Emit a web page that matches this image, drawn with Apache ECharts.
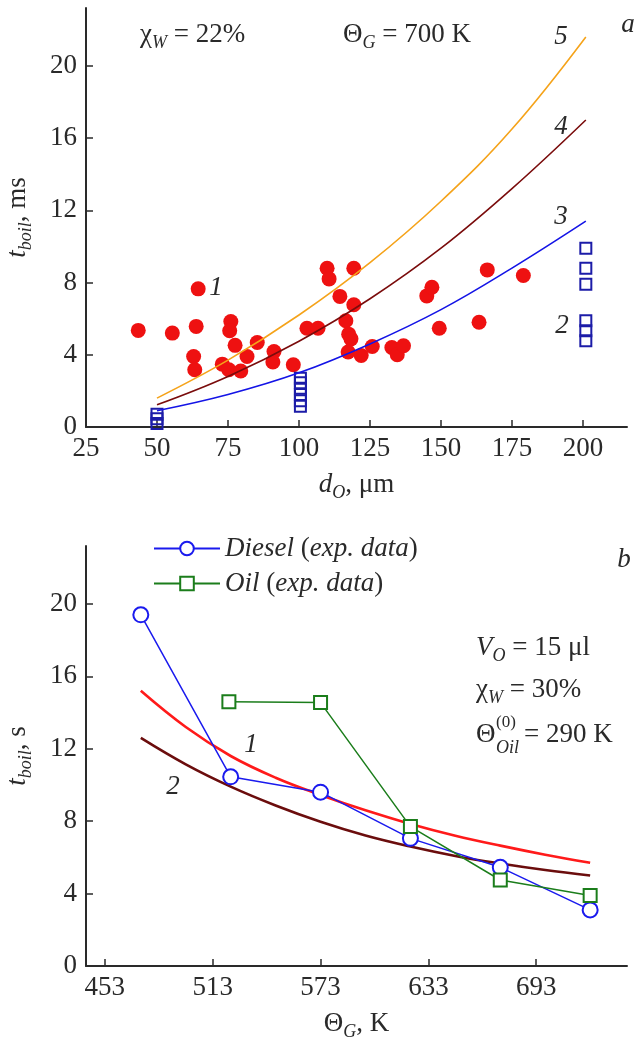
<!DOCTYPE html>
<html>
<head>
<meta charset="utf-8">
<script src="https://cdn.jsdelivr.net/npm/echarts@6/dist/echarts.min.js"></script>
<style>html,body{margin:0;padding:0;background:#fff}#c{width:644px;height:1039px}</style>
</head>
<body>
<div id="c"></div>
<script>
// ---------- Panel a data ----------
const dropDiam = [50, 75, 100, 125, 150, 175, 201];
const curve3 = [0.9, 1.8, 3.0, 4.6, 6.5, 8.8, 11.4];
const curve4 = [1.23, 2.8, 4.75, 7.1, 9.9, 13.2, 17.0];
const curve5 = [1.6, 3.7, 6.2, 9.1, 12.5, 16.5, 21.6];
const expDots = [[43.4,5.35],[55.4,5.2],[64.5,7.65],[63.8,5.57],[62.9,3.9],[63.3,3.17],[76.0,5.84],[75.6,5.33],[77.5,4.52],[73.0,3.48],[75.3,3.17],[79.5,3.1],[81.7,3.9],[85.3,4.68],[91.2,4.18],[90.8,3.6],[98.0,3.45],[102.8,5.47],[106.7,5.47],[109.9,8.79],[110.6,8.2],[114.4,7.23],[116.5,5.88],[117.5,5.14],[118.3,4.88],[117.3,4.15],[119.3,8.79],[119.3,6.77],[121.9,3.96],[125.8,4.46],[132.7,4.4],[134.6,4.0],[136.8,4.5],[145.0,7.26],[146.8,7.74],[149.4,5.47],[163.4,5.8],[166.3,8.7],[179.0,8.39]];
const sqDiam = [50, 100.5, 201];
const sqTimes = [[0.2, 0.45, 0.7], [1.15, 1.45, 1.8, 2.15, 2.45, 2.7], [4.77, 5.33, 5.88, 7.9, 8.79, 9.9]];
const xTicksA = [25, 50, 75, 100, 125, 150, 175, 200];
const yTicks = [0, 4, 8, 12, 16, 20];

// ---------- Panel b data ----------
const gasTemps = [473, 523, 573, 623, 673, 723];
const dieselExp = [19.4, 10.45, 9.6, 7.05, 5.45, 3.1];
const oilTemps = [522, 573, 623, 673, 723];
const oilExp = [14.6, 14.55, 7.7, 4.75, 3.9];
const modelTemps = [473, 498, 523, 548, 573, 598, 623, 648, 673, 698, 723];
const model1 = [15.2, 13.2, 11.6, 10.4, 9.45, 8.6, 7.85, 7.2, 6.65, 6.15, 5.7];
const model2 = [12.6, 11.14, 9.91, 8.87, 7.97, 7.21, 6.6, 6.08, 5.66, 5.3, 5.0];
const xTicksB = [453, 513, 573, 633, 693];

const serif = 'Liberation Serif, Times New Roman, Tinos, serif';
const ink = '#2a2a2a';
const FS = 27;
const SUB = 18;
const rich = {
  n: {fontFamily: serif, fontSize: FS, color: ink, lineHeight: 34},
  i: {fontFamily: serif, fontSize: FS, color: ink, fontStyle: 'italic', lineHeight: 34},
  s: {fontFamily: serif, fontSize: SUB, color: ink, fontStyle: 'italic', lineHeight: 18, verticalAlign: 'bottom'}
};
const zipXY = (xs, ys) => xs.map((x, k) => [x, ys[k]]);
const sqPoints = [];
sqDiam.forEach((d, k) => sqTimes[k].forEach(t => sqPoints.push([d, t])));

function xAxisCfg(idx, min, max, ticks, labelTicks, name) {
  return {
    type: 'value', gridIndex: idx, min: min, max: max,
    name: name, nameLocation: 'middle', nameGap: 41,
    nameTextStyle: {rich: rich},
    axisLine: {show: true, onZero: false, lineStyle: {color: ink, width: 2}},
    axisTick: {show: true, inside: true, length: 7, lineStyle: {color: ink, width: 1.5}, customValues: ticks},
    axisLabel: {fontFamily: serif, fontSize: FS, color: ink, margin: 8, customValues: labelTicks},
    splitLine: {show: false}
  };
}
function yAxisCfg(idx, name) {
  return {
    type: 'value', gridIndex: idx, min: 0, max: 23.2,
    name: name, nameLocation: 'middle', nameGap: 51,
    nameTextStyle: {rich: rich},
    axisLine: {show: true, onZero: false, lineStyle: {color: ink, width: 2}},
    axisTick: {show: true, inside: true, length: 7, lineStyle: {color: ink, width: 1.5}, customValues: yTicks.slice(1)},
    axisLabel: {fontFamily: serif, fontSize: FS, color: ink, margin: 9, customValues: yTicks},
    splitLine: {show: false}
  };
}
function txt(x, y, text, opts) {
  return {type: 'text', x: x, y: y, silent: true,
    style: Object.assign({text: text, rich: rich, fontFamily: serif, fontSize: FS, fill: ink, verticalAlign: 'middle'}, opts || {})};
}
function it(x, y, text) {
  return txt(x, y, text, {fontStyle: 'italic', align: 'center'});
}

const chart = echarts.init(document.getElementById('c'), null, {renderer: 'canvas'});
chart.setOption({
  animation: false,
  backgroundColor: '#fff',
  grid: [
    {left: 86, right: 17, top: 8, bottom: 612, outerBoundsMode: 'none', containLabel: false},
    {left: 86, right: 17, top: 546, bottom: 73, outerBoundsMode: 'none', containLabel: false}
  ],
  xAxis: [
    xAxisCfg(0, 25, 215.5, xTicksA.slice(1), xTicksA, '{i|d}{s|O}{n|, μm}'),
    xAxisCfg(1, 442.5, 743.5, xTicksB, xTicksB, '{n|Θ}{s|G}{n|, K}')
  ],
  yAxis: [
    yAxisCfg(0, '{i|t}{s|boil}{n|, ms}'),
    yAxisCfg(1, '{i|t}{s|boil}{n|, s}')
  ],
  legend: {
    left: 148, top: 530, orient: 'vertical', itemGap: 8, itemWidth: 66, itemHeight: 17,
    data: ['Diesel', 'Oil'],
    formatter: name => '{i|' + name + ' }{n|(}{i|exp. data}{n|)}',
    textStyle: {rich: rich}
  },
  series: [
    {type: 'line', name: 'c3', xAxisIndex: 0, yAxisIndex: 0, data: zipXY(dropDiam, curve3), smooth: 0.4, showSymbol: false, lineStyle: {color: '#1414e6', width: 1.6}},
    {type: 'line', name: 'c4', xAxisIndex: 0, yAxisIndex: 0, data: zipXY(dropDiam, curve4), smooth: 0.4, showSymbol: false, lineStyle: {color: '#7a0c0c', width: 1.6}},
    {type: 'line', name: 'c5', xAxisIndex: 0, yAxisIndex: 0, data: zipXY(dropDiam, curve5), smooth: 0.4, showSymbol: false, lineStyle: {color: '#f5a31a', width: 1.6}},
    {type: 'scatter', name: 'dots', xAxisIndex: 0, yAxisIndex: 0, data: expDots, symbolSize: 15, itemStyle: {color: '#ee1111', opacity: 1}},
    {type: 'scatter', name: 'squares', xAxisIndex: 0, yAxisIndex: 0, data: sqPoints, symbol: 'rect', symbolSize: 11,
      itemStyle: {color: 'rgba(255,255,255,0)', borderColor: '#1c1ca8', borderWidth: 2, opacity: 1}},
    {type: 'line', name: 'm1', xAxisIndex: 1, yAxisIndex: 1, data: zipXY(modelTemps, model1), smooth: 0.4, showSymbol: false, lineStyle: {color: '#ff1a1a', width: 2.6}},
    {type: 'line', name: 'm2', xAxisIndex: 1, yAxisIndex: 1, data: zipXY(modelTemps, model2), smooth: 0.4, showSymbol: false, lineStyle: {color: '#6b0d0d', width: 2.6}},
    {type: 'line', name: 'Diesel', xAxisIndex: 1, yAxisIndex: 1, data: zipXY(gasTemps, dieselExp), symbol: 'emptyCircle', symbolSize: 15,
      lineStyle: {color: '#1a1aee', width: 1.5}, itemStyle: {color: '#1a1aee', borderWidth: 2}},
    {type: 'line', name: 'Oil', xAxisIndex: 1, yAxisIndex: 1, data: zipXY(oilTemps, oilExp), symbol: 'emptyRect', symbolSize: 13,
      lineStyle: {color: '#1b7d1b', width: 1.5}, itemStyle: {color: '#1b7d1b', borderWidth: 2}}
  ],
  graphic: [
    txt(140, 35, '{n|χ}{s|W}{n| = 22%}'),
    txt(343, 35, '{n|Θ}{s|G}{n| = 700 K}'),
    it(561, 37, '5'), it(561, 127, '4'), it(561, 217, '3'),
    it(628, 25, 'a'),
    it(216, 288, '1'), it(562, 326, '2'),
    it(624, 560, 'b'),
    txt(476, 648, '{i|V}{s|O}{n| = 15 μl}'),
    txt(476, 690, '{n|χ}{s|W}{n| = 30%}'),
    txt(476, 735, 'Θ'),
    txt(496, 723, '(0)', {fontSize: 17}),
    txt(496, 748, 'Oil', {fontSize: SUB, fontStyle: 'italic'}),
    txt(524, 735, '= 290 K'),
    it(251, 745, '1'), it(173, 787, '2')
  ]
});
</script>
</body>
</html>
